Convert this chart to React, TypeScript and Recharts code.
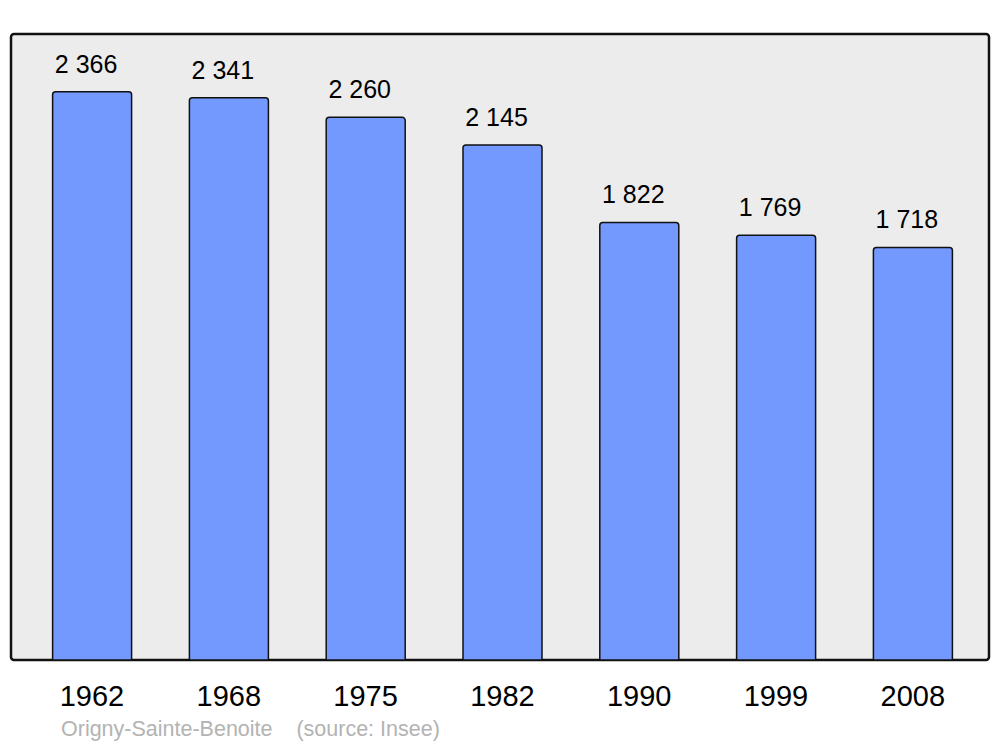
import { Bar, BarChart, LabelList, ReferenceArea, XAxis, YAxis } from "recharts";

const years = ["1962", "1968", "1975", "1982", "1990", "1999", "2008"];
const population = [2366, 2341, 2260, 2145, 1822, 1769, 1718];
const place = "Origny-Sainte-Benoite";
const source = "(source: Insee)";

const data = years.map((year, i) => ({ year, population: population[i] }));

const fmt = (v: unknown) => String(v).replace(/\B(?=(\d{3})+(?!\d))/g, " ");
const font = "'Liberation Sans', Arial, sans-serif";

export default function App() {
  return (
    <div style={{ position: "absolute", left: 0, top: 0, width: 1000, height: 747, background: "#fff", fontFamily: font }}>
      <BarChart width={1000} height={747} data={data} margin={{ top: 34, right: 11, left: 11, bottom: 0 }}>
        <XAxis
          dataKey="year"
          axisLine={false}
          tickLine={false}
          tickSize={6}
          tickMargin={19}
          height={87}
          padding={{ left: 12.6, right: 7.8 }}
          tick={{ fontSize: 29, fill: "#000", fontFamily: font }}
        />
        <XAxis xAxisId="frame" dataKey="year" hide />
        <YAxis hide domain={[0, 2607]} />
        <ReferenceArea xAxisId="frame" y1={0} y2={2607} fill="#ececec" fillOpacity={1} stroke="#111" strokeWidth={2.5} radius={3} ifOverflow="visible" />
        <Bar dataKey="population" fill="#7399ff" stroke="#111" strokeWidth={1.5} barSize={79} radius={[3, 3, 0, 0]} isAnimationActive={false}>
          <LabelList dataKey="population" position="top" offset={19} dx={-6} formatter={fmt} style={{ fontSize: 25, fill: "#000", fontFamily: font }} />
        </Bar>
      </BarChart>
      <div style={{ position: "absolute", left: 61, top: 717, fontSize: 21.5, color: "#b3b3b3", whiteSpace: "pre" }}>
        {place + "    " + source}
      </div>
    </div>
  );
}
